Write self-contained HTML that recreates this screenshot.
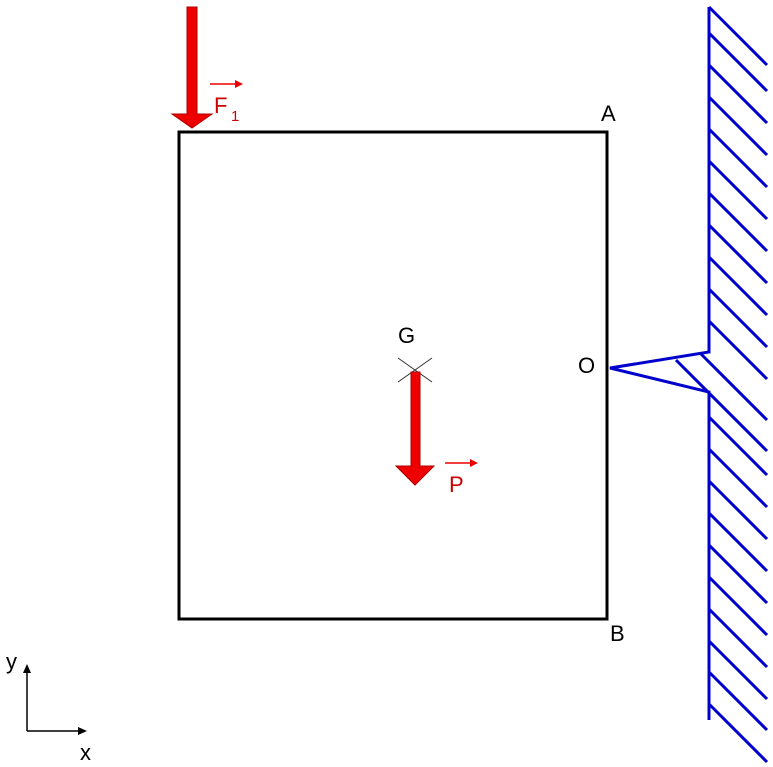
<!DOCTYPE html>
<html><head><style>html,body{margin:0;padding:0;background:#fff}svg{display:block}</style></head>
<body>
<svg width="773" height="767" xmlns="http://www.w3.org/2000/svg" font-family="Liberation Sans, sans-serif">
<rect x="179" y="132" width="428" height="487" fill="none" stroke="#000" stroke-width="3"/>
<g stroke="#0000cc" stroke-width="3" fill="none">
<polyline points="709,7 709,352 610,368 709,392 709,720"/>
<line x1="709" y1="7" x2="767" y2="65"/>
<line x1="709" y1="33" x2="767" y2="91"/>
<line x1="709" y1="65" x2="767" y2="123"/>
<line x1="709" y1="97" x2="767" y2="155"/>
<line x1="709" y1="129" x2="767" y2="187"/>
<line x1="709" y1="161" x2="767" y2="219"/>
<line x1="709" y1="193" x2="767" y2="251"/>
<line x1="709" y1="225" x2="767" y2="283"/>
<line x1="709" y1="257" x2="767" y2="315"/>
<line x1="709" y1="289" x2="767" y2="347"/>
<line x1="709" y1="321" x2="767" y2="379"/>
<line x1="700" y1="353" x2="767" y2="420"/>
<line x1="676" y1="360" x2="767" y2="451"/>
<line x1="709" y1="417" x2="767" y2="475"/>
<line x1="709" y1="449" x2="767" y2="507"/>
<line x1="709" y1="481" x2="767" y2="539"/>
<line x1="709" y1="513" x2="767" y2="571"/>
<line x1="709" y1="545" x2="767" y2="603"/>
<line x1="709" y1="577" x2="767" y2="635"/>
<line x1="709" y1="609" x2="767" y2="667"/>
<line x1="709" y1="641" x2="767" y2="699"/>
<line x1="709" y1="672" x2="767" y2="730"/>
<line x1="709" y1="704" x2="767" y2="762"/>
</g>
<!-- F1 arrow -->
<polygon points="187,7 197,7 197,114 212,114 192,128 172,114 187,114" fill="#ee0000" stroke="#aa0000" stroke-width="1"/>
<line x1="210" y1="84" x2="238" y2="84" stroke="#e00" stroke-width="1.5"/>
<polygon points="243,84 235,80 235,88" fill="#e00"/>
<text x="214" y="113" font-size="22" fill="#c00">F</text>
<text x="231" y="121" font-size="15" fill="#c00">1</text>
<!-- G -->
<line x1="398" y1="358" x2="432" y2="382" stroke="#333" stroke-width="1"/>
<line x1="432" y1="358" x2="398" y2="382" stroke="#333" stroke-width="1"/>
<text x="398" y="343" font-size="22">G</text>
<polygon points="411,372 420,372 420,466 434,466 415,485 396,466 411,466" fill="#ee0000" stroke="#aa0000" stroke-width="1"/>
<line x1="445" y1="463" x2="472" y2="463" stroke="#e00" stroke-width="1.5"/>
<polygon points="478,463 470,459 470,467" fill="#e00"/>
<text x="449" y="492" font-size="22" fill="#c00">P</text>
<text x="601" y="121" font-size="22">A</text>
<text x="610" y="641" font-size="22">B</text>
<text x="578" y="373" font-size="22">O</text>
<!-- axes -->
<line x1="27" y1="731" x2="27" y2="672" stroke="#000" stroke-width="1.5"/>
<polygon points="27,664 23,673 31,673" fill="#000"/>
<line x1="27" y1="731" x2="79" y2="731" stroke="#000" stroke-width="1.5"/>
<polygon points="87,731 78,727 78,735" fill="#000"/>
<text x="6" y="669" font-size="22">y</text>
<text x="80" y="760" font-size="22">x</text>
</svg>
</body></html>
